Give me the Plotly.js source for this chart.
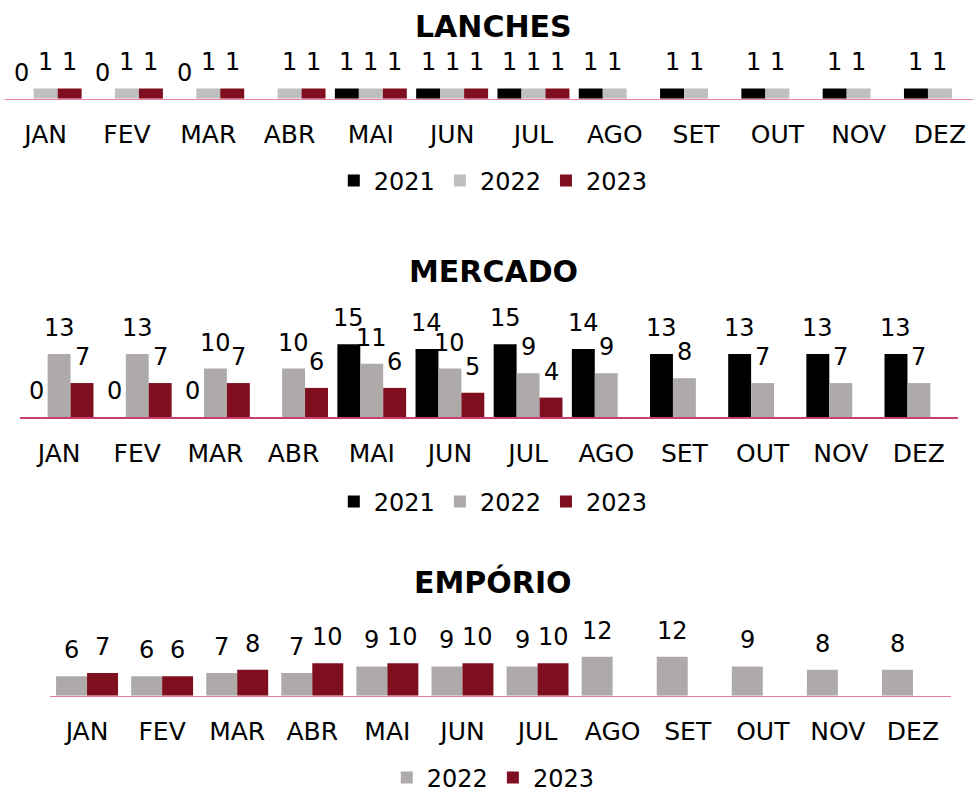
<!DOCTYPE html>
<html>
<head>
<meta charset="utf-8">
<script src="https://cdn.plot.ly/plotly-3.0.1.min.js"></script>
<style>html,body{margin:0;padding:0;background:#fff;}#chart{width:973px;height:794px;}</style>
</head>
<body>
<div id="chart"></div>
<script>
// ---- data ----
const months = ['JAN','FEV','MAR','ABR','MAI','JUN','JUL','AGO','SET','OUT','NOV','DEZ'];
const years3 = ['2021','2022','2023'];
const years2 = ['2022','2023'];
const lanches2021 = [0,0,0,null,1,1,1,1,1,1,1,1];
const lanches2022 = [1,1,1,1,1,1,1,1,1,1,1,1];
const lanches2023 = [1,1,1,1,1,1,1,null,null,null,null,null];
const mercado2021 = [0,0,0,null,15,14,15,14,13,13,13,13];
const mercado2022 = [13,13,10,10,11,10,9,9,8,7,7,7];
const mercado2023 = [7,7,7,6,6,5,4,null,null,null,null,null];
const emporio2022 = [6,6,7,7,9,9,9,12,12,9,8,8];
const emporio2023 = [7,6,8,10,10,10,10,null,null,null,null,null];
const titles = ['LANCHES','MERCADO','EMPÓRIO'];

// ---- style ----
const FONT = 'DejaVu Sans';
const BLACK = '#000000', RED = '#7f0f1e';
const panels = [
  {series:[lanches2021,lanches2022,lanches2023], names:years3, colors:[BLACK,'#bfbfbf',RED],
   gap:0.115, xa:'x', ya:'y', leg:'legend', line:'#e57ca2'},
  {series:[mercado2021,mercado2022,mercado2023], names:years3, colors:[BLACK,'#aeaaaa',RED],
   gap:0.12, xa:'x2', ya:'y2', leg:'legend2', line:'#c8406e'},
  {series:[emporio2022,emporio2023], names:years2, colors:['#aeaaaa',RED],
   gap:0.175, xa:'x3', ya:'y3', leg:'legend3', line:'#e57ca2'}
];

const traces = [];
const annotations = [];
panels.forEach(p => {
  const n = p.series.length;
  const w = (1 - p.gap) / n;
  p.series.forEach((vals, k) => {
    const off = -(1 - p.gap) / 2 + k * w;
    traces.push({
      type:'bar', x:months, y:vals, name:p.names[k],
      width:w, offset:off,
      marker:{color:p.colors[k], line:{width:0}},
      xaxis:p.xa, yaxis:p.ya, legend:p.leg,
      hoverinfo:'skip'
    });
    vals.forEach((v, i) => {
      if (v === null) return;
      annotations.push({
        x:i + off + w/2, y:v, xref:p.xa, yref:p.ya,
        text:String(v), showarrow:false, yanchor:'bottom', xanchor:'center',
        yshift:10, font:{family:FONT, size:24, color:'#000'}
      });
    });
  });
});

const titleY = [1-26/794, 1-271/794, 1-582/794];
titles.forEach((t, j) => {
  annotations.push({
    x:0.507, y:titleY[j], xref:'paper', yref:'paper', text:t, showarrow:false,
    xanchor:'center', yanchor:'middle',
    font:{family:FONT, size:30, color:'#000', weight:'bold'}
  });
});

function xax(domain, range, line, anchor){
  return {domain:domain, range:range, anchor:anchor, type:'category', showline:true, linecolor:line, linewidth:1.5,
    showgrid:false, zeroline:false, ticks:'', tickmode:'linear', tick0:0, dtick:1, ticklabelstandoff:13,
    tickfont:{family:FONT, size:25, color:'#000'}, fixedrange:true};
}
function yax(domain, range, anchor){
  return {domain:domain, range:range, anchor:anchor, visible:false, fixedrange:true};
}
function leg(y){
  return {orientation:'h', x:0.507, xanchor:'center', y:y, yanchor:'middle',
    font:{family:FONT, size:24, color:'#000'}, bgcolor:'rgba(0,0,0,0)', itemwidth:30, tracegroupgap:0};
}

const layout = {
  width:973, height:794, margin:{l:0,r:0,t:0,b:0,autoexpand:false},
  paper_bgcolor:'#fff', plot_bgcolor:'#fff',
  barmode:'overlay', showlegend:true,
  xaxis: xax([5/973, 1], [-0.5, -0.5 + 968/81.3], panels[0].line, 'y'),
  yaxis: yax([1-98.7/794, 1-50/794], [0, 48.7/10.3], 'x'),
  xaxis2: xax([20/973, 958/973], [-0.5, 11.5], panels[1].line, 'y2'),
  yaxis2: yax([1-417/794, 1-300/794], [0, 117/4.85], 'x2'),
  xaxis3: xax([49.5/973, 950.5/973], [-0.5, 11.5], panels[2].line, 'y3'),
  yaxis3: yax([1-695.7/794, 1-620/794], [0, 75.7/3.25], 'x3'),
  legend: leg(1-181/794),
  legend2: leg(1-502/794),
  legend3: leg(1-778/794),
  annotations: annotations
};

Plotly.newPlot('chart', traces, layout, {staticPlot:true, displayModeBar:false});
</script>
</body>
</html>
